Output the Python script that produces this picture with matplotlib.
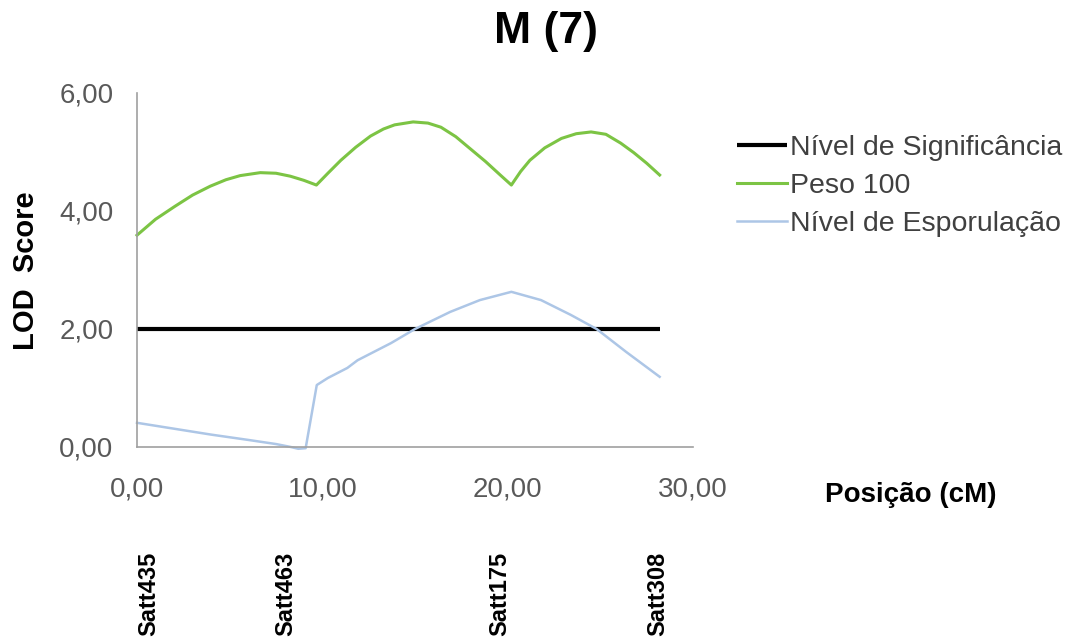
import matplotlib
matplotlib.use("Agg")
import matplotlib.pyplot as plt
import matplotlib.transforms as mtransforms

plt.rcParams['font.family'] = ['Liberation Sans', 'DejaVu Sans']

# ---- data ----
sig_x = [0.0, 28.2]
sig_y = [2.0, 2.0]

peso_x = [0.0, 1.0, 2.05, 3.0, 3.95, 4.8, 5.57, 6.65, 7.5, 8.27, 9.0, 9.68,
          10.3, 11.0, 11.8, 12.6, 13.3, 13.9, 14.9, 15.7, 16.4, 17.2, 18.0, 18.8, 19.6, 20.2,
          20.7, 21.2, 22.0, 22.9, 23.7, 24.5, 25.3, 26.1, 26.8, 27.5, 28.2]
peso_y = [3.59, 3.86, 4.08, 4.27, 4.42, 4.53, 4.60, 4.65, 4.64, 4.59, 4.52, 4.44,
          4.64, 4.86, 5.08, 5.27, 5.39, 5.46, 5.51, 5.49, 5.42, 5.26, 5.05, 4.84, 4.61, 4.44,
          4.67, 4.86, 5.07, 5.23, 5.31, 5.34, 5.30, 5.15, 4.99, 4.81, 4.61]

espor_x = [0.0, 2.0, 4.0, 6.0, 7.5, 8.3, 8.7, 9.1, 9.7, 10.3, 11.35, 11.9, 13.7,
           15.0, 16.9, 18.5, 20.2, 21.8, 23.4, 24.8, 26.4, 28.2]
espor_y = [0.41, 0.31, 0.21, 0.12, 0.05, 0.00, -0.03, -0.02, 1.05, 1.17, 1.34, 1.47, 1.76,
           2.00, 2.29, 2.49, 2.63, 2.49, 2.24, 2.00, 1.61, 1.19]

series_labels = ['Nível de Significância', 'Peso 100', 'Nível de Esporulação']
marker_names = ['Satt435', 'Satt463', 'Satt175', 'Satt308']
marker_pos = [0.65, 8.05, 19.6, 28.1]

yticks = [0, 2, 4, 6]
xticks = [0, 10, 20, 30]

# ---- figure ----
fig = plt.figure(figsize=(10.75, 6.41), dpi=100)
ax = fig.add_axes([137/1075, 1-447/641, (693-137)/1075, (447-93)/641])

l1, = ax.plot(sig_x, sig_y, color='black', lw=3.0, solid_capstyle='butt', clip_on=False)
l2, = ax.plot(peso_x, peso_y, color='#7cc444', lw=2.2, clip_on=False)
l3, = ax.plot(espor_x, espor_y, color='#adc6e6', lw=1.8, clip_on=False)

ax.set_xlim(0, 30)
ax.set_ylim(0, 6)
ax.set_xticks(xticks)
ax.set_yticks(yticks)
ax.set_xticklabels([f"{v:.2f}".replace('.', ',') for v in xticks])
ax.set_yticklabels([f"{v:.2f}".replace('.', ',') for v in yticks])
ax.tick_params(axis='both', length=0, labelsize=20, colors='#595959')
ax.tick_params(axis='y', pad=17)
ax.tick_params(axis='x', pad=21)
for s in ['top', 'right']:
    ax.spines[s].set_visible(False)
for s in ['left', 'bottom']:
    ax.spines[s].set_color('#a0a0a0')
    ax.spines[s].set_linewidth(1.2)

fig.text(0.508, 1-32/641, 'M (7)', ha='center', va='center', fontsize=32, fontweight='bold')
fig.text(26/1075, 1-271/641, 'LOD  Score', ha='center', va='center', rotation=90,
         fontsize=21, fontweight='bold')
fig.text(911/1075, 1-495/641, 'Posição (cM)', ha='center', va='center',
         fontsize=20, fontweight='bold')

trans = mtransforms.blended_transform_factory(ax.transData, fig.transFigure)
for name, pos in zip(marker_names, marker_pos):
    ax.text(pos, 1-552/641, name, transform=trans, rotation=90, ha='center', va='top',
            fontsize=17, fontweight='bold', clip_on=False)

fig.legend([l1, l2, l3], series_labels, loc='upper left',
           bbox_to_anchor=(737/1075, 1-135/641), frameon=False, fontsize=20.5,
           handlelength=1.75, handletextpad=0.1, labelspacing=0.42, borderaxespad=0,
           borderpad=0, labelcolor='#404040')

fig.savefig('out.png', dpi=100)
